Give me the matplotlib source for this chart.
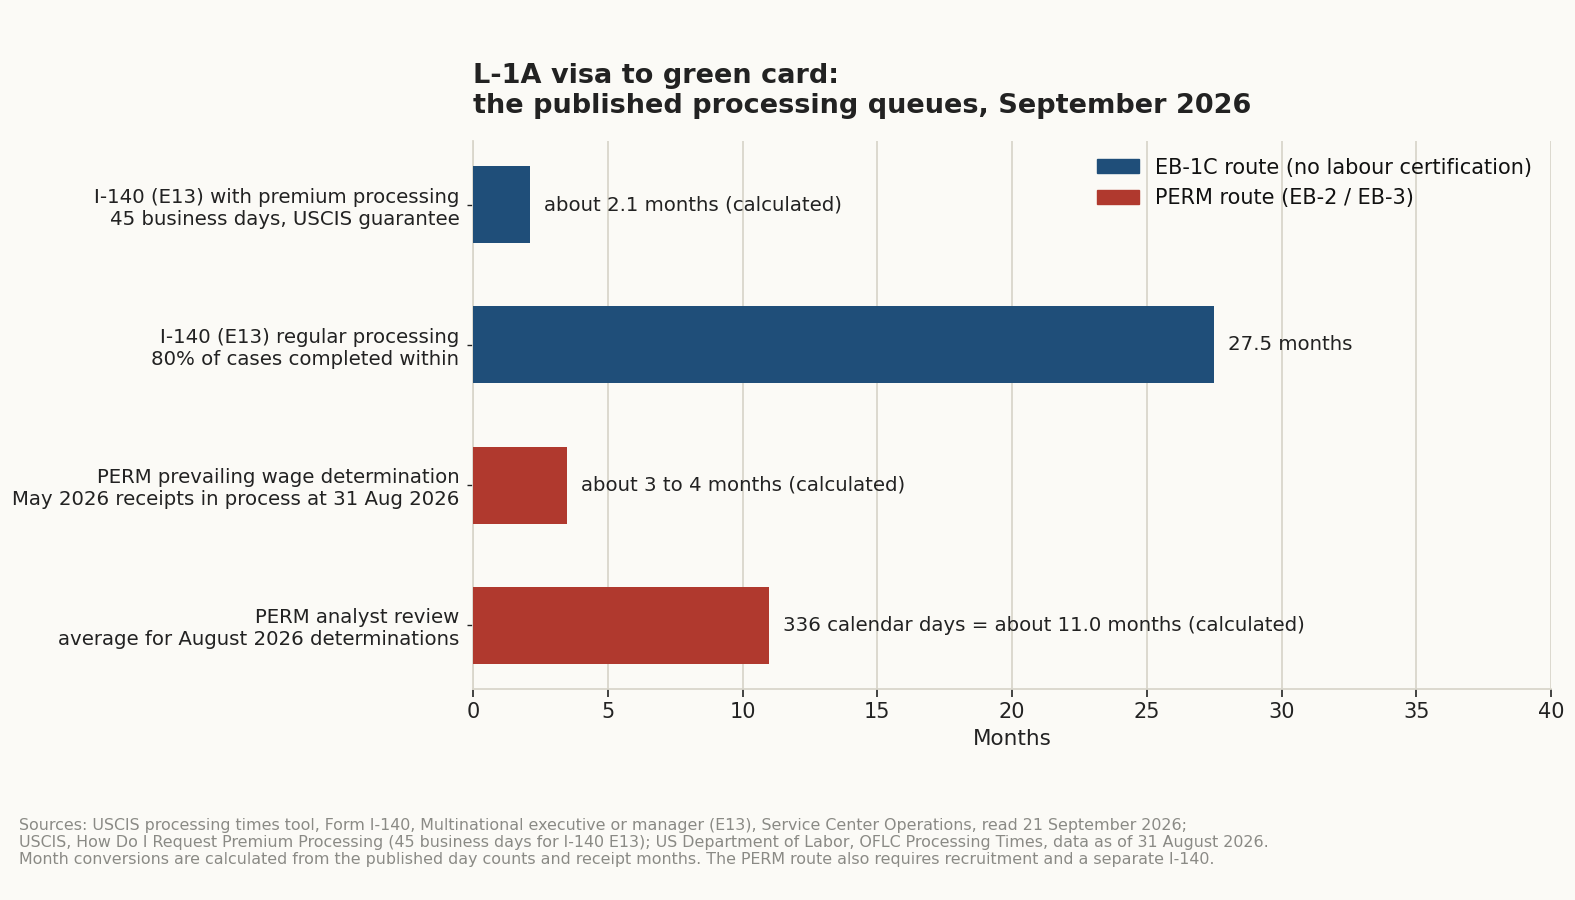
import matplotlib
matplotlib.use("Agg")
import matplotlib.pyplot as plt
from matplotlib.patches import Patch

categories = [
    "I-140 (E13) with premium processing\n45 business days, USCIS guarantee",
    "I-140 (E13) regular processing\n80% of cases completed within",
    "PERM prevailing wage determination\nMay 2026 receipts in process at 31 Aug 2026",
    "PERM analyst review\naverage for August 2026 determinations",
]
months = [2.1, 27.5, 3.5, 11.0]
routes = ["EB-1C", "EB-1C", "PERM", "PERM"]
value_labels = [
    "about 2.1 months (calculated)",
    "27.5 months",
    "about 3 to 4 months (calculated)",
    "336 calendar days = about 11.0 months (calculated)",
]
route_names = {"EB-1C": "EB-1C route (no labour certification)",
               "PERM": "PERM route (EB-2 / EB-3)"}
route_colors = {"EB-1C": "#1f4e79", "PERM": "#b0392e"}

bg = "#fbfaf6"
text_c = "#222222"
grid_c = "#d9d6cb"

W, H = 1575, 900
fig = plt.figure(figsize=(15.75, 9), dpi=100, facecolor=bg)
ax = fig.add_axes([473/W, 1 - 689/H, (1551-473)/W, (689-141)/H])
ax.set_facecolor(bg)

ypos = list(range(len(categories)))
colors = [route_colors[r] for r in routes]
ax.barh(ypos, months, height=0.55, color=colors, zorder=3)
ax.set_yticks(ypos)
ax.set_yticklabels(categories, fontsize=14.2, color=text_c)
ax.invert_yaxis()
ax.set_xlim(0, 40)
ax.set_xticks(range(0, 41, 5))
ax.tick_params(axis="x", labelsize=15, colors=text_c, length=6, width=1.2)
ax.tick_params(axis="y", length=4, width=1, colors=text_c, pad=5.8)
ax.set_xlabel("Months", fontsize=15.5, color=text_c, labelpad=5)
ax.grid(axis="x", color=grid_c, linewidth=1.3, zorder=0)
ax.set_axisbelow(True)
for s in ["top", "right"]:
    ax.spines[s].set_visible(False)
for s in ["left", "bottom"]:
    ax.spines[s].set_color(grid_c)
    ax.spines[s].set_linewidth(1.3)

for y, v, t in zip(ypos, months, value_labels):
    ax.text(v + 0.52, y, t, va="center", ha="left", fontsize=14.2, color=text_c)

handles = [Patch(color=route_colors[k], label=route_names[k]) for k in ["EB-1C", "PERM"]]
leg = ax.legend(handles=handles, loc="upper right", frameon=False, fontsize=15,
                handlelength=2.0, handleheight=0.65, bbox_to_anchor=(1.0, 1.004),
                labelspacing=0.52)
for t in leg.get_texts():
    t.set_color("#111111")

fig.text(473/W, 1 - 63/H, "L-1A visa to green card:\nthe published processing queues, September 2026",
         fontsize=19.5, fontweight="bold", color=text_c, ha="left", va="top", linespacing=1.2)

fig.text(19/W, 1 - 818/H,
         "Sources: USCIS processing times tool, Form I-140, Multinational executive or manager (E13), Service Center Operations, read 21 September 2026;\n"
         "USCIS, How Do I Request Premium Processing (45 business days for I-140 E13); US Department of Labor, OFLC Processing Times, data as of 31 August 2026.\n"
         "Month conversions are calculated from the published day counts and receipt months. The PERM route also requires recruitment and a separate I-140.",
         fontsize=11.4, color="#8a8a85", ha="left", va="top", linespacing=1.17)

fig.savefig("out.png", dpi=100, facecolor=bg)
